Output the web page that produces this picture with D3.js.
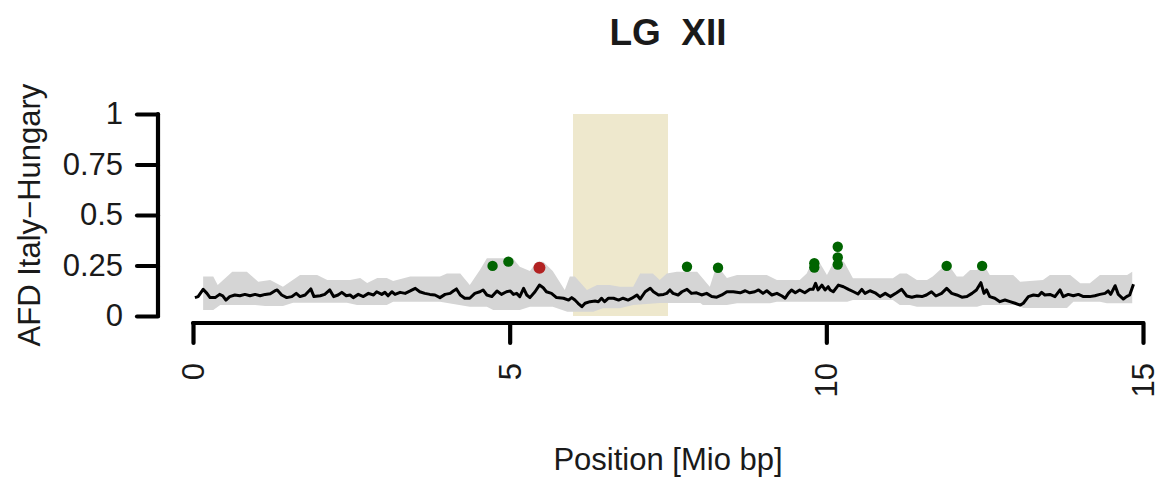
<!DOCTYPE html>
<html>
<head>
<meta charset="utf-8">
<script src="https://cdn.jsdelivr.net/npm/d3@7"></script>
<style>
  html, body { margin: 0; padding: 0; background: #fff; }
  svg text { font-family: "Liberation Sans", Arial, sans-serif; fill: #1a1a1a; }
</style>
</head>
<body>
<svg id="chart" width="1160" height="483"></svg>
<script>
// ---------- data ----------
const title = "LG  XII";
const xLabel = "Position [Mio bp]";
const yLabel = "AFD Italy\u2212Hungary";
const xTicks = [0, 5, 10, 15];
const yTicks = [0, 0.25, 0.5, 0.75, 1];
const yTickLabels = ["0", "0.25", "0.5", "0.75", "1"];
const region = [6.0, 7.5];

const lineX = [
  0.03,0.08,0.16,0.22,0.27,0.35,0.42,0.47,0.52,0.58,
  0.66,0.74,0.82,0.90,0.98,1.06,1.14,1.22,1.29,1.33,
  1.40,1.48,1.56,1.63,1.69,1.77,1.86,1.91,2.01,2.08,
  2.16,2.22,2.29,2.35,2.42,2.48,2.53,2.61,2.69,2.77,
  2.85,2.90,2.98,3.03,3.08,3.14,3.19,3.27,3.35,3.43,
  3.51,3.58,3.66,3.74,3.82,3.90,3.98,4.06,4.11,4.16,
  4.22,4.29,4.37,4.45,4.53,4.58,4.64,4.72,4.80,4.87,
  4.95,5.01,5.06,5.11,5.16,5.22,5.27,5.32,5.40,5.47,
  5.53,5.58,5.66,5.74,5.85,5.93,5.98,6.03,6.08,6.14,
  6.19,6.27,6.35,6.40,6.45,6.50,6.56,6.64,6.72,6.79,
  6.87,6.93,7.01,7.06,7.14,7.22,7.27,7.35,7.43,7.48,
  7.53,7.58,7.66,7.72,7.80,7.87,7.95,8.03,8.11,8.19,
  8.27,8.35,8.43,8.53,8.64,8.72,8.79,8.87,8.93,9.00,
  9.06,9.14,9.22,9.30,9.35,9.40,9.45,9.51,9.58,9.66,
  9.74,9.79,9.83,9.87,9.93,9.98,10.03,10.06,10.11,10.19,
  10.27,10.35,10.43,10.50,10.56,10.61,10.69,10.77,10.85,10.93,
  11.01,11.11,11.19,11.27,11.35,11.43,11.51,11.58,11.66,11.73,
  11.82,11.90,11.98,12.06,12.14,12.22,12.30,12.37,12.44,12.49,
  12.53,12.58,12.66,12.74,12.82,12.90,12.98,13.06,13.11,13.19,
  13.27,13.35,13.40,13.45,13.53,13.61,13.69,13.74,13.82,13.90,
  13.98,14.06,14.16,14.24,14.32,14.40,14.45,14.49,14.56,14.61,
  14.69,14.74,14.79,14.85
];
const lineY = [
  0.091,0.096,0.132,0.112,0.091,0.091,0.107,0.100,0.079,0.096,
  0.104,0.100,0.107,0.100,0.107,0.100,0.107,0.110,0.124,0.129,
  0.104,0.091,0.096,0.112,0.096,0.104,0.134,0.096,0.100,0.107,
  0.129,0.096,0.104,0.117,0.100,0.104,0.091,0.107,0.096,0.112,
  0.104,0.120,0.107,0.117,0.100,0.120,0.107,0.117,0.112,0.124,
  0.137,0.120,0.112,0.107,0.104,0.091,0.107,0.112,0.124,0.134,
  0.104,0.088,0.088,0.112,0.120,0.129,0.104,0.096,0.124,0.107,
  0.120,0.124,0.107,0.112,0.096,0.137,0.104,0.091,0.120,0.153,
  0.140,0.120,0.112,0.091,0.088,0.079,0.091,0.079,0.063,0.046,
  0.063,0.071,0.074,0.071,0.088,0.071,0.088,0.088,0.079,0.088,
  0.079,0.088,0.104,0.084,0.120,0.137,0.120,0.104,0.107,0.112,
  0.129,0.112,0.104,0.120,0.132,0.112,0.115,0.104,0.112,0.096,
  0.093,0.104,0.120,0.120,0.115,0.125,0.115,0.120,0.129,0.112,
  0.125,0.104,0.112,0.099,0.088,0.112,0.129,0.115,0.129,0.115,
  0.132,0.132,0.162,0.129,0.153,0.129,0.145,0.129,0.120,0.153,
  0.145,0.132,0.120,0.109,0.132,0.112,0.125,0.115,0.096,0.112,
  0.096,0.115,0.132,0.099,0.093,0.099,0.096,0.104,0.120,0.099,
  0.112,0.137,0.112,0.104,0.093,0.096,0.112,0.129,0.165,0.112,
  0.129,0.096,0.088,0.071,0.079,0.071,0.063,0.054,0.063,0.096,
  0.104,0.100,0.117,0.104,0.107,0.096,0.129,0.096,0.107,0.100,
  0.107,0.096,0.096,0.100,0.107,0.112,0.124,0.107,0.150,0.107,
  0.084,0.096,0.104,0.157
];

const bandUpX = [
  0.16,0.32,0.39,0.62,0.85,1.03,1.22,1.42,1.69,1.96,
  2.12,2.48,2.64,2.75,2.91,3.06,3.16,3.43,3.90,4.01,
  4.22,4.37,4.53,4.64,5.05,5.16,5.32,5.43,5.53,5.68,
  5.87,5.95,6.03,6.22,6.38,6.58,6.74,6.95,7.06,7.26,
  7.37,7.48,7.64,7.96,8.16,8.27,8.43,8.59,9.06,9.22,
  9.58,9.69,9.79,9.87,10.01,10.11,10.18,10.29,10.42,11.05,
  11.16,11.27,11.43,11.59,11.68,11.91,12.06,12.16,12.27,12.38,
  12.46,12.58,12.95,13.06,13.42,13.53,13.85,14.01,14.16,14.32,
  14.75,14.83
];
const bandUpY = [
  0.195,0.195,0.153,0.219,0.219,0.170,0.178,0.145,0.203,0.203,
  0.178,0.178,0.188,0.163,0.188,0.188,0.173,0.195,0.195,0.211,
  0.211,0.153,0.228,0.286,0.286,0.244,0.223,0.269,0.269,0.223,
  0.129,0.195,0.195,0.129,0.153,0.153,0.145,0.145,0.211,0.211,
  0.178,0.211,0.219,0.219,0.145,0.252,0.188,0.203,0.203,0.178,
  0.178,0.211,0.277,0.277,0.203,0.262,0.300,0.262,0.187,0.187,
  0.211,0.211,0.178,0.178,0.195,0.261,0.195,0.195,0.228,0.228,
  0.269,0.203,0.203,0.170,0.178,0.203,0.203,0.162,0.162,0.203,
  0.203,0.219
];
const bandLoX = [
  0.16,0.32,0.43,0.98,1.14,1.42,1.58,2.43,2.59,3.06,
  3.16,3.90,4.11,4.37,4.64,4.74,5.16,5.32,5.68,5.91,
  6.32,6.47,6.74,6.95,7.37,8.01,8.05,8.43,8.59,9.11,
  9.22,10.33,10.42,11.05,11.16,11.32,11.43,12.38,12.47,13.01,
  13.11,13.80,13.90,14.32,14.43,14.83
];
const bandLoY = [
  0.030,0.030,0.054,0.054,0.050,0.050,0.066,0.066,0.054,0.054,
  0.071,0.071,0.059,0.046,0.046,0.030,0.030,0.046,0.046,0.021,
  0.021,0.038,0.038,0.054,0.064,0.064,0.054,0.054,0.063,0.063,
  0.071,0.071,0.079,0.079,0.054,0.054,0.046,0.046,0.054,0.054,
  0.040,0.040,0.071,0.071,0.063,0.063
];

const sigX = [4.73,4.98,7.80,8.29,9.81,9.81,10.18,10.18,10.18,11.90,12.46];
const sigY = [0.248,0.269,0.244,0.239,0.261,0.240,0.343,0.290,0.255,0.248,0.248];
const topX = [5.47];
const topY = [0.239];

// ---------- drawing ----------
const svg = d3.select("#chart");
const x = d3.scaleLinear().domain([0, 15]).range([193, 1143]);
const y = d3.scaleLinear().domain([0, 1]).range([316, 114]);

// highlighted region
svg.append("rect")
  .attr("x", x(region[0]))
  .attr("y", y(1))
  .attr("width", x(region[1]) - x(region[0]))
  .attr("height", y(0) - y(1))
  .attr("fill", "#EEE8CD");

// band polygon
const upper = bandUpX.map((d, i) => [d, bandUpY[i]]);
const lower = bandLoX.map((d, i) => [d, bandLoY[i]]).reverse();
const poly = upper.concat(lower);
svg.append("path")
  .attr("d", d3.line().x(d => x(d[0])).y(d => y(d[1]))(poly) + "Z")
  .attr("fill", "#D5D5D5")
  .attr("stroke", "none");

// line
const pts = lineX.map((d, i) => [d, lineY[i]]);
svg.append("path")
  .attr("d", d3.line().x(d => x(d[0])).y(d => y(d[1]))(pts))
  .attr("fill", "none")
  .attr("stroke", "#000")
  .attr("stroke-width", 3)
  .attr("stroke-linejoin", "round");

// points
svg.selectAll("circle.sig")
  .data(sigX.map((d, i) => [d, sigY[i]]))
  .join("circle")
  .attr("class", "sig")
  .attr("cx", d => x(d[0]))
  .attr("cy", d => y(d[1]))
  .attr("r", 5.2)
  .attr("fill", "#006400");
svg.selectAll("circle.top")
  .data(topX.map((d, i) => [d, topY[i]]))
  .join("circle")
  .attr("class", "top")
  .attr("cx", d => x(d[0]))
  .attr("cy", d => y(d[1]))
  .attr("r", 6)
  .attr("fill", "#B22222");

// axes
const fs = 31;
const ff = "Liberation Sans, Arial, sans-serif";
const yAxis = d3.axisLeft(y).tickValues(yTicks).tickSize(21).tickPadding(14)
  .tickFormat((d, i) => yTickLabels[i]);
const gy = svg.append("g").attr("transform", "translate(158,0)").call(yAxis);
gy.select(".domain").attr("d", `M0,${y(1)}V${y(0)}`);
gy.selectAll("path,line").attr("stroke", "#000").attr("stroke-width", 4.2).attr("stroke-linecap", "round");
gy.selectAll("text").attr("font-size", fs).attr("font-family", ff).attr("fill", "#1a1a1a");

const xAxis = d3.axisBottom(x).tickValues(xTicks).tickSize(20).tickFormat(d3.format("d"));
const gx = svg.append("g").attr("transform", "translate(0,323)").call(xAxis);
gx.select(".domain").attr("d", `M${x(0)},0H${x(15)}`);
gx.selectAll("path,line").attr("stroke", "#000").attr("stroke-width", 4.2).attr("stroke-linecap", "round");
gx.selectAll("text")
  .attr("font-size", fs)
  .attr("font-family", ff)
  .attr("fill", "#1a1a1a")
  .attr("text-anchor", "end")
  .attr("dominant-baseline", "central")
  .attr("dy", null)
  .attr("y", 0)
  .attr("x", 0)
  .attr("transform", "translate(0,40) rotate(-90)");

// title and labels
svg.append("text")
  .attr("x", 668).attr("y", 45)
  .attr("text-anchor", "middle")
  .attr("font-size", 37).attr("font-weight", "bold")
  .style("white-space", "pre")
  .attr("xml:space", "preserve")
  .text(title);

svg.append("text")
  .attr("x", 668).attr("y", 470)
  .attr("text-anchor", "middle")
  .attr("font-size", fs)
  .text(xLabel);

svg.append("text")
  .attr("transform", "translate(40,215) rotate(-90)")
  .attr("text-anchor", "middle")
  .attr("font-size", fs)
  .text(yLabel);
</script>
</body>
</html>
